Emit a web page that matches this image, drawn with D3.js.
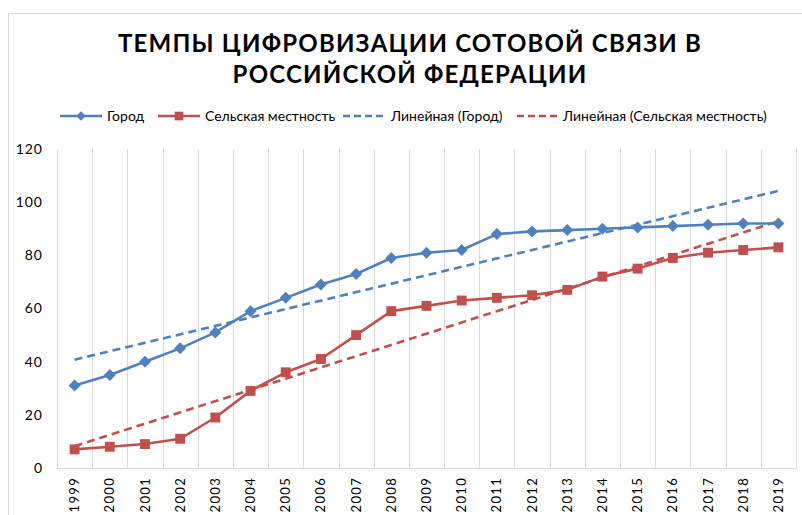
<!DOCTYPE html>
<html>
<head>
<meta charset="utf-8">
<script src="https://cdn.jsdelivr.net/npm/d3@7"></script>
<style>
  html, body { margin: 0; padding: 0; background: #fff; }
  svg { display: block; }
</style>
</head>
<body>
<div id="chart"></div>
<script>
// Годы наблюдений
const years = ["1999","2000","2001","2002","2003","2004","2005","2006","2007","2008","2009",
               "2010","2011","2012","2013","2014","2015","2016","2017","2018","2019"];
// Город
const cityValues = [31, 35, 40, 45, 51, 59, 64, 69, 73, 79, 81, 82, 88, 89, 89.5, 90, 90.5, 91, 91.5, 92, 92];
// Сельская местность
const ruralValues = [7, 8, 9, 11, 19, 29, 36, 41, 50, 59, 61, 63, 64, 65, 67, 72, 75, 79, 81, 82, 83];
const yTicks = [0, 20, 40, 60, 80, 100, 120];
const titleLines = ["ТЕМПЫ ЦИФРОВИЗАЦИИ СОТОВОЙ СВЯЗИ В", "РОССИЙСКОЙ ФЕДЕРАЦИИ"];
const seriesNames = ["Город", "Сельская местность", "Линейная (Город)", "Линейная (Сельская местность)"];

const W = 802, H = 515;
const blue = "#4f81bd", red = "#c0504d";
const font = "Lato, 'Open Sans', sans-serif";

const svg = d3.select("#chart").append("svg").attr("width", W).attr("height", H);

// рамка области диаграммы
svg.append("rect").attr("x", 8.5).attr("y", 13.5).attr("width", W).attr("height", H)
  .attr("fill", "#fff").attr("stroke", "#d9d9d9").attr("stroke-width", 1);

// заголовок
const title = svg.append("text").attr("text-anchor", "middle")
  .attr("font-family", font).attr("font-weight", "bold").attr("font-size", 24)
  .attr("letter-spacing", 1.2).attr("fill", "#000");
titleLines.forEach((t, i) => {
  title.append("tspan").attr("x", 410).attr("y", 52 + i * 31).text(t);
});

const margin = { left: 57, right: 6, top: 149, bottom: 47 };
const x = d3.scaleBand().domain(years).range([margin.left, W - margin.right]);
const y = d3.scaleLinear().domain([0, 120]).range([H - margin.bottom, margin.top]);
const cx = d => x(d) + x.bandwidth() / 2;

// вертикальная сетка по границам категорий
const gridX = years.map(d => x(d)).concat([x.range()[1]]);
svg.append("g").selectAll("line").data(gridX).join("line")
  .attr("x1", d => Math.round(d) + 0.5).attr("x2", d => Math.round(d) + 0.5)
  .attr("y1", y(120)).attr("y2", y(0))
  .attr("stroke", "#d9d9d9").attr("stroke-width", 1);

// ось X
const xAxis = svg.append("g").attr("transform", `translate(0,${y(0)})`)
  .call(d3.axisBottom(x).tickSize(0).tickPadding(0));
xAxis.select(".domain").attr("stroke", "#d9d9d9").attr("d", `M${x.range()[0]},0.5H${x.range()[1]}`);
xAxis.selectAll("text")
  .attr("font-family", font).attr("font-size", 13).attr("fill", "#000")
  .attr("letter-spacing", 1.3)
  .attr("transform", "rotate(-90)")
  .attr("text-anchor", "end").attr("dx", -9).attr("dy", "0.35em").attr("y", 0).attr("x", 0);

// ось Y
const yAxis = svg.append("g").attr("transform", `translate(${margin.left - 14},0)`)
  .call(d3.axisLeft(y).tickValues(yTicks).tickSize(0).tickPadding(0));
yAxis.select(".domain").remove();
yAxis.selectAll("text").attr("font-family", font).attr("font-size", 14)
  .attr("letter-spacing", 1).attr("fill", "#000");

// линии тренда (метод наименьших квадратов)
function trend(vals) {
  const n = vals.length, xs = d3.range(n);
  const mx = d3.mean(xs), my = d3.mean(vals);
  const b = d3.sum(xs, i => (i - mx) * (vals[i] - my)) / d3.sum(xs, i => (i - mx) ** 2);
  const a = my - b * mx;
  return [[years[0], a], [years[n - 1], a + b * (n - 1)]];
}

const line = d3.line().x(d => cx(d[0])).y(d => y(d[1]));

// ромб — квадрат, повёрнутый на 45°
const series = [
  { vals: cityValues, color: blue, size: 72, rot: 45 },
  { vals: ruralValues, color: red, size: 98, rot: 0 }
];

series.forEach(s => {
  svg.append("path").datum(trend(s.vals)).attr("d", line)
    .attr("fill", "none").attr("stroke", s.color).attr("stroke-width", 2.6)
    .attr("stroke-dasharray", "8,5");
});

series.forEach(s => {
  const pts = s.vals.map((v, i) => [years[i], v]);
  svg.append("path").datum(pts).attr("d", line)
    .attr("fill", "none").attr("stroke", s.color).attr("stroke-width", 2.6)
    .attr("stroke-linejoin", "round");
  svg.append("g").selectAll("path").data(pts).join("path")
    .attr("transform", d => `translate(${cx(d[0])},${y(d[1])}) rotate(${s.rot})`)
    .attr("d", d3.symbol(d3.symbolSquare, s.size))
    .attr("fill", s.color);
});

// легенда
const legendY = 116;
const legendItems = [
  { x0: 60, tx: 107, color: blue, dash: null, size: 45, rot: 45 },
  { x0: 158, tx: 205, color: red, dash: null, size: 75, rot: 0 },
  { x0: 343, tx: 391, color: blue, dash: "7,4", size: 0 },
  { x0: 517, tx: 563, color: red, dash: "7,4", size: 0 }
];
const lg = svg.append("g");
legendItems.forEach((it, i) => {
  const len = 42;
  lg.append("line").attr("x1", it.x0).attr("x2", it.x0 + len)
    .attr("y1", legendY).attr("y2", legendY)
    .attr("stroke", it.color).attr("stroke-width", 2.6)
    .attr("stroke-dasharray", it.dash);
  if (it.size) {
    lg.append("path").attr("transform", `translate(${it.x0 + len / 2},${legendY}) rotate(${it.rot})`)
      .attr("d", d3.symbol(d3.symbolSquare, it.size)).attr("fill", it.color);
  }
  lg.append("text").attr("x", it.tx).attr("y", legendY).attr("dy", "0.35em")
    .attr("font-family", font).attr("font-size", 14).attr("fill", "#000")
    .text(seriesNames[i]);
});
</script>
</body>
</html>
